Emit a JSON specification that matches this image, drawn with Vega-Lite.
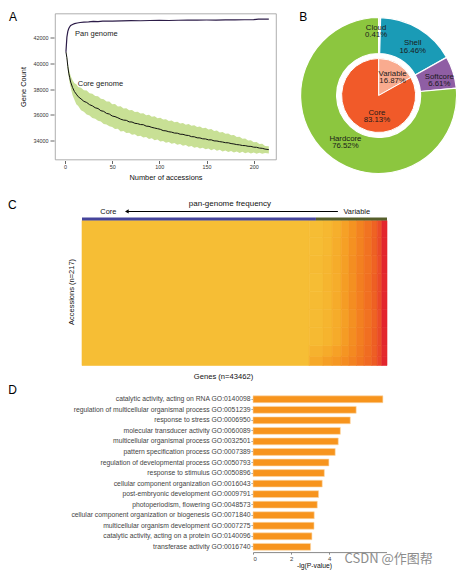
{
  "$schema": "https://vega.github.io/schema/vega-lite/v6.json",
  "background": "white",
  "padding": {"left": 0, "top": 10.5, "right": 2, "bottom": 2},
  "config": {
    "font": "Liberation Sans",
    "view": {"stroke": null},
    "axis": {"grid": false, "labelColor": "#333333", "titleColor": "#111111", "titleFontWeight": "normal", "tickColor": "#666666", "domainColor": "#666666", "labelFont": "Liberation Sans", "titleFont": "Liberation Sans"},
    "title": {"fontWeight": "normal", "fontSize": 12, "color": "#000000", "anchor": "start", "frame": "group", "baseline": "alphabetic", "font": "Liberation Sans"},
    "text": {"font": "Liberation Sans"}
  },
  "datasets": {
    "core": [
      {"x":1,"y":40900,"lo":40900,"hi":40900},{"x":2,"y":40450,"lo":40300,"hi":40620},{"x":3,"y":39760,"lo":39480,"hi":40040},{"x":4,"y":39240,"lo":38920,"hi":39600},{"x":5,"y":38890,"lo":38480,"hi":39290},{"x":6,"y":38550,"lo":38120,"hi":39020},{"x":8,"y":38130,"lo":37520,"hi":38700},{"x":10,"y":37810,"lo":37180,"hi":38460},{"x":12,"y":37610,"lo":36820,"hi":38380},{"x":14,"y":37410,"lo":36680,"hi":38170},{"x":17,"y":37240,"lo":36360,"hi":38110},{"x":20,"y":37050,"lo":36240,"hi":37920},{"x":23,"y":36960,"lo":36030,"hi":37890},{"x":26,"y":36790,"lo":35950,"hi":37680},{"x":29,"y":36700,"lo":35760,"hi":37650},{"x":32,"y":36550,"lo":35690,"hi":37470},{"x":35,"y":36490,"lo":35530,"hi":37440},{"x":38,"y":36320,"lo":35470,"hi":37250},{"x":41,"y":36270,"lo":35280,"hi":37220},{"x":44,"y":36110,"lo":35250,"hi":37030},{"x":47,"y":36060,"lo":35100,"hi":37030},{"x":50,"y":35910,"lo":35060,"hi":36830},{"x":53,"y":35860,"lo":34890,"hi":36840},{"x":56,"y":35770,"lo":34920,"hi":36650},{"x":59,"y":35660,"lo":34710,"hi":36660},{"x":62,"y":35590,"lo":34730,"hi":36490},{"x":65,"y":35570,"lo":34590,"hi":36520},{"x":68,"y":35450,"lo":34610,"hi":36350},{"x":71,"y":35440,"lo":34450,"hi":36370},{"x":74,"y":35340,"lo":34480,"hi":36220},{"x":77,"y":35310,"lo":34330,"hi":36240},{"x":80,"y":35240,"lo":34370,"hi":36100},{"x":83,"y":35230,"lo":34230,"hi":36120},{"x":86,"y":35120,"lo":34280,"hi":35970},{"x":89,"y":35100,"lo":34120,"hi":36000},{"x":92,"y":35020,"lo":34170,"hi":35850},{"x":95,"y":34970,"lo":34020,"hi":35890},{"x":98,"y":34920,"lo":34070,"hi":35740},{"x":101,"y":34870,"lo":33920,"hi":35770},{"x":104,"y":34770,"lo":33970,"hi":35630},{"x":107,"y":34750,"lo":33830,"hi":35660},{"x":110,"y":34680,"lo":33890,"hi":35520},{"x":113,"y":34650,"lo":33740,"hi":35560},{"x":116,"y":34580,"lo":33810,"hi":35420},{"x":119,"y":34570,"lo":33660,"hi":35460},{"x":122,"y":34490,"lo":33720,"hi":35330},{"x":125,"y":34480,"lo":33590,"hi":35370},{"x":128,"y":34410,"lo":33650,"hi":35230},{"x":131,"y":34390,"lo":33510,"hi":35280},{"x":134,"y":34300,"lo":33570,"hi":35140},{"x":137,"y":34290,"lo":33440,"hi":35180},{"x":140,"y":34210,"lo":33500,"hi":35050},{"x":143,"y":34200,"lo":33370,"hi":35090},{"x":146,"y":34130,"lo":33440,"hi":34950},{"x":149,"y":34120,"lo":33310,"hi":34990},{"x":152,"y":34050,"lo":33380,"hi":34850},{"x":155,"y":34050,"lo":33250,"hi":34890},{"x":158,"y":33970,"lo":33330,"hi":34740},{"x":161,"y":33960,"lo":33200,"hi":34780},{"x":164,"y":33910,"lo":33280,"hi":34630},{"x":167,"y":33880,"lo":33150,"hi":34670},{"x":170,"y":33830,"lo":33230,"hi":34520},{"x":173,"y":33820,"lo":33110,"hi":34550},{"x":176,"y":33760,"lo":33190,"hi":34400},{"x":179,"y":33730,"lo":33070,"hi":34430},{"x":182,"y":33680,"lo":33150,"hi":34270},{"x":185,"y":33660,"lo":33030,"hi":34300},{"x":188,"y":33610,"lo":33120,"hi":34140},{"x":191,"y":33600,"lo":33000,"hi":34160},{"x":194,"y":33550,"lo":33090,"hi":34000},{"x":197,"y":33540,"lo":32980,"hi":34020},{"x":200,"y":33480,"lo":33070,"hi":33870},{"x":203,"y":33470,"lo":32970,"hi":33890},{"x":206,"y":33410,"lo":33050,"hi":33730},{"x":209,"y":33390,"lo":32960,"hi":33740},{"x":212,"y":33330,"lo":33030,"hi":33580},{"x":216,"y":33290,"lo":32980,"hi":33560}
    ],
    "pan": [
      {"x":1,"y":40900},{"x":2,"y":42050},{"x":3,"y":42500},{"x":4,"y":42720},{"x":5,"y":42860},{"x":6,"y":42950},{"x":8,"y":43040},{"x":10,"y":43100},{"x":13,"y":43150},{"x":16,"y":43190},{"x":20,"y":43220},{"x":25,"y":43240},{"x":30,"y":43270},{"x":35,"y":43255},{"x":40,"y":43290},{"x":50,"y":43300},{"x":60,"y":43315},{"x":70,"y":43330},{"x":80,"y":43325},{"x":90,"y":43345},{"x":100,"y":43350},{"x":110,"y":43345},{"x":120,"y":43365},{"x":130,"y":43370},{"x":140,"y":43375},{"x":150,"y":43385},{"x":160,"y":43380},{"x":170,"y":43395},{"x":180,"y":43390},{"x":190,"y":43405},{"x":200,"y":43415},{"x":205,"y":43450},{"x":210,"y":43460},{"x":216,"y":43450}
    ],
    "hm": [
      {"x":0,"x2":0.745,"y":0,"y2":217,"v":0},
      {"x":0.745,"x2":0.79,"y":0,"y2":14,"v":0.16},{"x":0.79,"x2":0.82,"y":0,"y2":14,"v":0.24},{"x":0.82,"x2":0.85,"y":0,"y2":14,"v":0.30},{"x":0.85,"x2":0.875,"y":0,"y2":14,"v":0.38},{"x":0.875,"x2":0.9,"y":0,"y2":14,"v":0.45},{"x":0.9,"x2":0.925,"y":0,"y2":14,"v":0.53},{"x":0.925,"x2":0.95,"y":0,"y2":14,"v":0.62},{"x":0.95,"x2":0.968,"y":0,"y2":14,"v":0.70},{"x":0.968,"x2":0.983,"y":0,"y2":14,"v":0.82},{"x":0.983,"x2":1,"y":0,"y2":14,"v":0.97},
      {"x":0.745,"x2":0.79,"y":14,"y2":30,"v":0.09},{"x":0.79,"x2":0.82,"y":14,"y2":30,"v":0.15},{"x":0.82,"x2":0.85,"y":14,"y2":30,"v":0.22},{"x":0.85,"x2":0.875,"y":14,"y2":30,"v":0.31},{"x":0.875,"x2":0.9,"y":14,"y2":30,"v":0.40},{"x":0.9,"x2":0.925,"y":14,"y2":30,"v":0.50},{"x":0.925,"x2":0.95,"y":14,"y2":30,"v":0.60},{"x":0.95,"x2":0.968,"y":14,"y2":30,"v":0.69},{"x":0.968,"x2":0.983,"y":14,"y2":30,"v":0.81},{"x":0.983,"x2":1,"y":14,"y2":30,"v":0.96},
      {"x":0.745,"x2":0.79,"y":30,"y2":57,"v":0.03},{"x":0.79,"x2":0.82,"y":30,"y2":57,"v":0.08},{"x":0.82,"x2":0.85,"y":30,"y2":57,"v":0.15},{"x":0.85,"x2":0.875,"y":30,"y2":57,"v":0.26},{"x":0.875,"x2":0.9,"y":30,"y2":57,"v":0.37},{"x":0.9,"x2":0.925,"y":30,"y2":57,"v":0.48},{"x":0.925,"x2":0.95,"y":30,"y2":57,"v":0.58},{"x":0.95,"x2":0.968,"y":30,"y2":57,"v":0.68},{"x":0.968,"x2":0.983,"y":30,"y2":57,"v":0.80},{"x":0.983,"x2":1,"y":30,"y2":57,"v":0.97},
      {"x":0.745,"x2":0.79,"y":57,"y2":84,"v":0.02},{"x":0.79,"x2":0.82,"y":57,"y2":84,"v":0.07},{"x":0.82,"x2":0.85,"y":57,"y2":84,"v":0.14},{"x":0.85,"x2":0.875,"y":57,"y2":84,"v":0.24},{"x":0.875,"x2":0.9,"y":57,"y2":84,"v":0.35},{"x":0.9,"x2":0.925,"y":57,"y2":84,"v":0.46},{"x":0.925,"x2":0.95,"y":57,"y2":84,"v":0.56},{"x":0.95,"x2":0.968,"y":57,"y2":84,"v":0.66},{"x":0.968,"x2":0.983,"y":57,"y2":84,"v":0.79},{"x":0.983,"x2":1,"y":57,"y2":84,"v":0.98},
      {"x":0.745,"x2":0.79,"y":84,"y2":111,"v":0.02},{"x":0.79,"x2":0.82,"y":84,"y2":111,"v":0.06},{"x":0.82,"x2":0.85,"y":84,"y2":111,"v":0.15},{"x":0.85,"x2":0.875,"y":84,"y2":111,"v":0.26},{"x":0.875,"x2":0.9,"y":84,"y2":111,"v":0.37},{"x":0.9,"x2":0.925,"y":84,"y2":111,"v":0.47},{"x":0.925,"x2":0.95,"y":84,"y2":111,"v":0.58},{"x":0.95,"x2":0.968,"y":84,"y2":111,"v":0.67},{"x":0.968,"x2":0.983,"y":84,"y2":111,"v":0.81},{"x":0.983,"x2":1,"y":84,"y2":111,"v":0.97},
      {"x":0.745,"x2":0.79,"y":111,"y2":138,"v":0.01},{"x":0.79,"x2":0.82,"y":111,"y2":138,"v":0.07},{"x":0.82,"x2":0.85,"y":111,"y2":138,"v":0.13},{"x":0.85,"x2":0.875,"y":111,"y2":138,"v":0.25},{"x":0.875,"x2":0.9,"y":111,"y2":138,"v":0.35},{"x":0.9,"x2":0.925,"y":111,"y2":138,"v":0.48},{"x":0.925,"x2":0.95,"y":111,"y2":138,"v":0.57},{"x":0.95,"x2":0.968,"y":111,"y2":138,"v":0.68},{"x":0.968,"x2":0.983,"y":111,"y2":138,"v":0.80},{"x":0.983,"x2":1,"y":111,"y2":138,"v":0.96},
      {"x":0.745,"x2":0.79,"y":138,"y2":165,"v":0.02},{"x":0.79,"x2":0.82,"y":138,"y2":165,"v":0.06},{"x":0.82,"x2":0.85,"y":138,"y2":165,"v":0.14},{"x":0.85,"x2":0.875,"y":138,"y2":165,"v":0.24},{"x":0.875,"x2":0.9,"y":138,"y2":165,"v":0.36},{"x":0.9,"x2":0.925,"y":138,"y2":165,"v":0.46},{"x":0.925,"x2":0.95,"y":138,"y2":165,"v":0.56},{"x":0.95,"x2":0.968,"y":138,"y2":165,"v":0.66},{"x":0.968,"x2":0.983,"y":138,"y2":165,"v":0.79},{"x":0.983,"x2":1,"y":138,"y2":165,"v":0.97},
      {"x":0.745,"x2":0.79,"y":165,"y2":192,"v":0.01},{"x":0.79,"x2":0.82,"y":165,"y2":192,"v":0.05},{"x":0.82,"x2":0.85,"y":165,"y2":192,"v":0.13},{"x":0.85,"x2":0.875,"y":165,"y2":192,"v":0.23},{"x":0.875,"x2":0.9,"y":165,"y2":192,"v":0.34},{"x":0.9,"x2":0.925,"y":165,"y2":192,"v":0.45},{"x":0.925,"x2":0.95,"y":165,"y2":192,"v":0.56},{"x":0.95,"x2":0.968,"y":165,"y2":192,"v":0.67},{"x":0.968,"x2":0.983,"y":165,"y2":192,"v":0.80},{"x":0.983,"x2":1,"y":165,"y2":192,"v":0.97},
      {"x":0.745,"x2":0.79,"y":192,"y2":217,"v":0.01},{"x":0.79,"x2":0.82,"y":192,"y2":217,"v":0.05},{"x":0.82,"x2":0.85,"y":192,"y2":217,"v":0.12},{"x":0.85,"x2":0.875,"y":192,"y2":217,"v":0.22},{"x":0.875,"x2":0.9,"y":192,"y2":217,"v":0.33},{"x":0.9,"x2":0.925,"y":192,"y2":217,"v":0.44},{"x":0.925,"x2":0.95,"y":192,"y2":217,"v":0.55},{"x":0.95,"x2":0.968,"y":192,"y2":217,"v":0.66},{"x":0.968,"x2":0.983,"y":192,"y2":217,"v":0.79},{"x":0.983,"x2":1,"y":192,"y2":217,"v":0.97}
    ],
    "go": [
      {"term":"catalytic activity, acting on RNA GO:0140098","v":6.81},
      {"term":"regulation of multicellular organismal process GO:0051239","v":5.41},
      {"term":"response to stress GO:0006950","v":5.10},
      {"term":"molecular transducer activity GO:0060089","v":4.58},
      {"term":"multicellular organismal process GO:0032501","v":4.47},
      {"term":"pattern specification process GO:0007389","v":4.31},
      {"term":"regulation of developmental process GO:0050793","v":3.98},
      {"term":"response to stimulus GO:0050896","v":3.74},
      {"term":"cellular component organization GO:0016043","v":3.63},
      {"term":"post-embryonic development GO:0009791","v":3.44},
      {"term":"photoperiodism, flowering GO:0048573","v":3.37},
      {"term":"cellular component organization or biogenesis GO:0071840","v":3.21},
      {"term":"multicellular organism development GO:0007275","v":3.20},
      {"term":"catalytic activity, acting on a protein GO:0140096","v":3.09},
      {"term":"transferase activity GO:0016740","v":3.02}
    ],
    "none": []
  },
  "columns": 1,
  "align": "none",
  "spacing": 17,
  "concat": [
    {
      "columns": 2,
      "align": "none",
      "spacing": 7,
      "concat": [
        {"width": 1, "height": 1, "data": {"name": "none"}, "mark": {"type": "point", "opacity": 0}},
        {
          "columns": 2,
          "align": "none",
          "spacing": 20.3,
          "concat": [
            {
              "width": 221,
              "height": 146,
              "view": {"stroke": "#9a9a9a", "strokeWidth": 0.8},
              "title": {"text": "A", "dx": -46, "offset": -10.5},
              "encoding": {
                "x": {"field": "x", "type": "quantitative", "title": "Number of accessions",
                      "scale": {"domain": [-10.6, 223.6], "nice": false, "zero": false},
                      "axis": {"values": [0, 50, 100, 150, 200], "domain": false, "tickSize": 3, "offset": 1, "labelFontSize": 5.4, "labelPadding": 1, "titleFontSize": 7.4, "titlePadding": 3.6}},
                "y": {"field": "y", "type": "quantitative", "title": "Gene Count",
                      "scale": {"domain": [32520, 43890], "nice": false, "zero": false},
                      "axis": {"values": [34000, 36000, 38000, 40000, 42000], "format": "d", "domain": false, "tickSize": 4, "offset": 1, "labelFontSize": 5.4, "labelPadding": 2, "titleFontSize": 7.4, "titlePadding": 5.3}}
              },
              "layer": [
                {"data": {"name": "core"}, "mark": {"type": "area", "color": "#c8e095", "opacity": 1},
                 "encoding": {"y": {"field": "lo", "type": "quantitative", "title": "Gene Count"}, "y2": {"field": "hi"}}},
                {"data": {"name": "core"}, "mark": {"type": "line", "color": "#111111", "strokeWidth": 1}},
                {"data": {"name": "pan"}, "mark": {"type": "line", "color": "#2c1c48", "strokeWidth": 1.2}},
                {"data": {"values": [{"x": 10.65, "y": 42257, "t": "Pan genome"}, {"x": 13.5, "y": 38366, "t": "Core genome"}]},
                 "mark": {"type": "text", "align": "left", "baseline": "middle", "fontSize": 7.5, "color": "#222222"},
                 "encoding": {"text": {"field": "t"}}}
              ]
            },
            {
              "width": 158.6,
              "height": 164,
              "title": {"text": "B", "dx": 0, "offset": -10.5},
              "resolve": {"scale": {"theta": "independent", "radius": "independent"}},
              "layer": [
                {"data": {"values": [{"seg": "Cloud", "pct": 0.41, "o": 1}, {"seg": "Shell", "pct": 16.46, "o": 2}, {"seg": "Softcore", "pct": 6.61, "o": 3}, {"seg": "Hardcore", "pct": 76.52, "o": 4}]},
                 "mark": {"type": "arc", "outerRadius": 78, "innerRadius": 42, "stroke": "white", "strokeWidth": 1.2},
                 "encoding": {
                   "theta": {"field": "pct", "type": "quantitative", "stack": true},
                   "order": {"field": "o", "type": "quantitative"},
                   "color": {"field": "seg", "type": "nominal", "legend": null,
                             "scale": {"domain": ["Cloud", "Shell", "Softcore", "Hardcore", "Variable", "Core"], "range": ["#f4f4f4", "#1a9bb6", "#8f5ea4", "#8cc63f", "#f9ab8f", "#f15a29"]}}
                 }},
                {"data": {"values": [{"seg": "Variable", "pct": 16.87, "o": 1}, {"seg": "Core", "pct": 83.13, "o": 2}]},
                 "mark": {"type": "arc", "outerRadius": 37, "innerRadius": 0, "stroke": "white", "strokeWidth": 1},
                 "encoding": {
                   "theta": {"field": "pct", "type": "quantitative", "stack": true},
                   "order": {"field": "o", "type": "quantitative"},
                   "color": {"field": "seg", "type": "nominal", "legend": null}
                 }},
                {"data": {"values": [
                   {"lab": "Cloud\n0.41%", "ta": 99.4, "r": 87},
                   {"lab": "Shell\n16.46%", "ta": 9.2, "r": 80},
                   {"lab": "Softcore\n6.61%", "ta": 20.2, "r": 81.5},
                   {"lab": "Hardcore\n76.52%", "ta": 60.4, "r": 70},
                   {"lab": "Variable\n16.87%", "ta": 9.1, "r": 33},
                   {"lab": "Core\n83.13%", "ta": 51.6, "r": 22}]},
                 "mark": {"type": "text", "lineBreak": "\n", "fontSize": 7.8, "lineHeight": 7.6, "color": "#1a1a1a", "align": "center", "baseline": "middle"},
                 "encoding": {
                   "theta": {"field": "ta", "type": "quantitative", "scale": {"domain": [0, 100], "range": [0, 6.283185]}},
                   "radius": {"field": "r", "type": "quantitative", "scale": {"type": "linear", "domain": [0, 100], "range": [0, 78], "zero": true}},
                   "text": {"field": "lab"}
                 }}
              ]
            }
          ]
        }
      ]
    },
    {
      "columns": 1,
      "align": "none",
      "spacing": 2.5,
      "concat": [
        {
          "columns": 2,
          "align": "none",
          "spacing": 7,
          "concat": [
            {"width": 1, "height": 1, "data": {"name": "none"}, "mark": {"type": "point", "opacity": 0}},
            {
              "width": 305,
              "height": 148,
              "title": {"text": " C", "dx": -74, "offset": -11.9},
              "encoding": {
                "x": {"field": "x", "type": "quantitative", "title": "Genes (n=43462)",
                      "scale": {"domain": [0, 1], "nice": false, "zero": false},
                      "axis": {"labels": false, "ticks": false, "domain": false, "titleFontSize": 7.6, "titlePadding": 6.5, "titleX": 141}},
                "y": {"field": "y", "type": "quantitative", "title": "Accessions (n=217)",
                      "scale": {"domain": [0, 221.5], "nice": false, "zero": false},
                      "axis": {"labels": false, "ticks": false, "domain": false, "titleFontSize": 7.5, "titlePadding": 6.5}}
              },
              "layer": [
                {"data": {"name": "hm"}, "mark": {"type": "rect", "strokeWidth": 0.6},
                 "encoding": {
                   "x2": {"field": "x2"}, "y2": {"field": "y2"},
                   "color": {"field": "v", "type": "quantitative", "legend": null, "scale": {"domain": [0, 1], "range": ["#f6be35", "#e21c2e"]}},
                   "stroke": {"field": "v", "type": "quantitative", "legend": null, "scale": {"domain": [0, 1], "range": ["#f6be35", "#e21c2e"]}}
                 }},
                {"data": {"values": [{"x": 0, "x2": 0.767, "y": 217, "y2": 221.5}]}, "mark": {"type": "rect", "color": "#45449b"},
                 "encoding": {"x2": {"field": "x2"}, "y2": {"field": "y2"}}},
                {"data": {"values": [{"x": 0.767, "x2": 1, "y": 217, "y2": 221.5}]}, "mark": {"type": "rect", "color": "#565f2b"},
                 "encoding": {"x2": {"field": "x2"}, "y2": {"field": "y2"}}},
                {"data": {"values": [{"x": 0.148, "x2": 0.839, "y": 230.5}]}, "mark": {"type": "rule", "color": "#000000", "strokeWidth": 1.2},
                 "encoding": {"x2": {"field": "x2"}}},
                {"data": {"values": [{"x": 0.147, "y": 230.5}]}, "mark": {"type": "point", "shape": "triangle-left", "filled": true, "size": 18, "color": "#000000", "opacity": 1},
                 "encoding": {}},
                {"data": {"values": [{"x": 0.485, "y": 242, "t": "pan-genome frequency"}]},
                 "mark": {"type": "text", "fontSize": 8, "align": "center", "baseline": "middle", "color": "#111111"},
                 "encoding": {"text": {"field": "t"}}},
                {"data": {"values": [{"x": 0.0863, "y": 230, "t": "Core"}, {"x": 0.9007, "y": 230, "t": "Variable"}]},
                 "mark": {"type": "text", "fontSize": 7.4, "align": "center", "baseline": "middle", "color": "#111111"},
                 "encoding": {"text": {"field": "t"}}}
              ]
            }
          ]
        },
        {
          "columns": 2,
          "align": "none",
          "spacing": 7,
          "concat": [
            {"width": 1, "height": 1, "data": {"name": "none"}, "mark": {"type": "point", "opacity": 0}},
            {
              "width": 133.5,
              "height": 158.1,
              "title": {"text": "D", "dx": -244.7, "offset": -2.8},
              "layer": [
                {"data": {"name": "go"},
                 "mark": {"type": "bar", "color": "#f7941d", "stroke": "#fcd9a8", "strokeWidth": 0.6},
                 "encoding": {
                   "y": {"field": "term", "type": "nominal", "sort": null, "title": null,
                         "scale": {"paddingInner": 0.35, "paddingOuter": 0.175},
                         "axis": {"domain": false, "tickSize": 2, "tickColor": "#999999", "labelFontSize": 6.8, "labelPadding": 1, "labelLimit": 400, "labelColor": "#444444"}},
                   "x": {"field": "v", "type": "quantitative", "title": "-lg(P-value)",
                         "scale": {"domain": [0, 7], "nice": false},
                         "axis": {"values": [0, 1, 2, 3, 4], "labelOverlap": false, "tickSize": 2, "labelFontSize": 6, "labelPadding": 1, "labelColor": "#444444", "titleFontSize": 6.8, "titlePadding": 1, "titleX": 61, "domainColor": "#888888", "tickColor": "#888888"}}
                 }},
                {"data": {"values": [{"t": "CSDN @作图帮"}]},
                 "mark": {"type": "text", "font": "Noto Sans CJK SC", "fontSize": 13, "align": "left", "baseline": "middle", "color": "#8c8c8c", "dy": 11.7},
                 "encoding": {
                   "x": {"datum": 4.8, "type": "quantitative"},
                   "y": {"datum": "transferase activity GO:0016740", "type": "nominal"},
                   "text": {"field": "t"}
                 }}
              ]
            }
          ]
        }
      ]
    }
  ]
}
